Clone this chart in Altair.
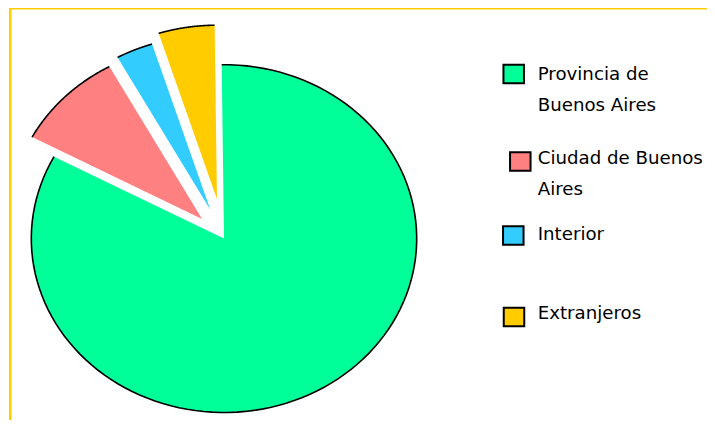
import textwrap
import altair as alt
import pandas as pd

# ---- data ----
labels = ["Provincia de Buenos Aires", "Ciudad de Buenos Aires", "Interior", "Extranjeros"]
values = [83.0, 9.2, 3.1, 4.7]

# ---- styles ----
colors = ["#00FF99", "#FF8080", "#33CCFF", "#FFCC00"]
explode = [0.0, 0.16, 0.18, 0.23]   # fraction of radius each slice is pulled out
W, H = 699, 412
CX, CY = 216.0, 230.6      # pie centre (px, inside chart)
RX, RY = 192.7, 173.9      # elliptical radii (px)
START = -0.012             # start angle (radians, clockwise from 12 o'clock)
N = 120

# legend layout (px)
leg_sq_x = [505.7, 512.3, 505.3, 506.0]
leg_sq_y = [66.0, 153.5, 227.5, 309.0]
leg_tx_x = 529.7
leg_tx_y = [72.0, 156.0, 232.0, 311.3]

pie_df = pd.DataFrame({
    "label": labels,
    "value": values,
    "order": list(range(len(labels))),
    "explode": explode,
})

x_scale = alt.Scale(domain=[-CX / RX, (W - CX) / RX], range=[0, W], nice=False, zero=False)
y_scale = alt.Scale(domain=[(CY - H) / RY, CY / RY], range=[H, 0], nice=False, zero=False)
color_scale = alt.Scale(domain=labels, range=colors)

geo = (
    alt.Chart(pie_df)
    .transform_joinaggregate(total="sum(value)")
    .transform_window(cum="sum(value)", sort=[alt.SortField("order", order="ascending")], frame=[None, 0])
    .transform_calculate(t0=f"{START} + 2*PI*(datum.cum - datum.value)/datum.total")
    .transform_calculate(t1=f"{START} + 2*PI*datum.cum/datum.total")
    .transform_calculate(tm="(datum.t0 + datum.t1)/2")
    .transform_calculate(k=f"sequence(-1, {N + 2})")
    .transform_flatten(["k"])
    .transform_calculate(arc=f"(datum.k >= 0 && datum.k <= {N}) ? 1 : 0")
    .transform_calculate(t=f"datum.t0 + (datum.t1 - datum.t0) * clamp(datum.k, 0, {N}) / {N}")
    .transform_calculate(u="datum.explode*sin(datum.tm) + datum.arc*sin(datum.t)")
    .transform_calculate(v="datum.explode*cos(datum.tm) + datum.arc*cos(datum.t)")
)

fill = geo.mark_line(filled=True, strokeWidth=0, interpolate="linear").encode(
    x=alt.X("u:Q", scale=x_scale, axis=None),
    y=alt.Y("v:Q", scale=y_scale, axis=None),
    color=alt.Color("label:N", scale=color_scale, legend=None),
    order=alt.Order("k:Q"),
)

outline = geo.transform_filter("datum.arc == 1").mark_line(
    color="black", strokeWidth=1.6, interpolate="linear"
).encode(
    x=alt.X("u:Q", scale=x_scale, axis=None),
    y=alt.Y("v:Q", scale=y_scale, axis=None),
    detail="label:N",
    order=alt.Order("k:Q"),
)

leg_df = pd.DataFrame({
    "label": labels,
    "text": ["\n".join(textwrap.wrap(l, 16)) for l in labels],
    "sx": leg_sq_x,
    "sy": leg_sq_y,
    "tx": [leg_tx_x] * len(labels),
    "ty": leg_tx_y,
})

leg_sq = alt.Chart(leg_df).mark_point(
    shape="M-1,-0.9H1V0.9H-1Z", filled=True, stroke="black", strokeWidth=2, size=420, opacity=1
).encode(
    x=alt.X("sx:Q", scale=None),
    y=alt.Y("sy:Q", scale=None),
    color=alt.Color("label:N", scale=color_scale, legend=None),
)

leg_tx = alt.Chart(leg_df).mark_text(
    align="left", baseline="alphabetic", font="DejaVu Sans", fontSize=18.2,
    lineBreak="\n", lineHeight=31, color="#000000"
).encode(
    x=alt.X("tx:Q", scale=None),
    y=alt.Y("ty:Q", scale=None),
    text="text:N",
)

frame_df = pd.DataFrame({"a": [0]})
frame_left = alt.Chart(frame_df).mark_rule(color="#FFCC00", strokeWidth=2.5).encode(
    x=alt.value(2.2), y=alt.value(0), y2=alt.value(H)
)
frame_top = alt.Chart(frame_df).mark_rule(color="#FFCC00", strokeWidth=1.5).encode(
    x=alt.value(1), x2=alt.value(W), y=alt.value(0.75)
)

chart = (
    alt.layer(frame_left, frame_top, fill, outline, leg_sq, leg_tx)
    .properties(width=W, height=H, padding=0, autosize=alt.AutoSizeParams(type="none"), background="white")
    .configure_view(stroke=None)
)

chart.save("out.html", embed_options={"renderer": "svg", "actions": False})
